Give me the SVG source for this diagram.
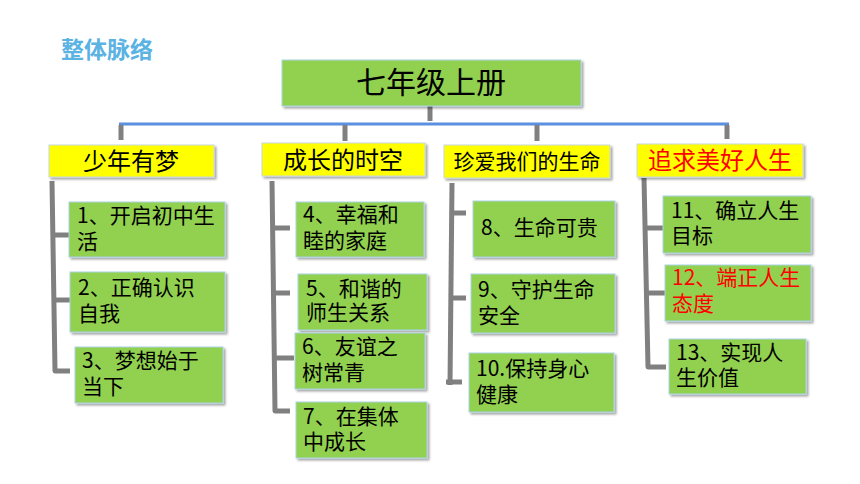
<svg xmlns="http://www.w3.org/2000/svg" width="860" height="484" viewBox="0 0 860 484">
<defs>
<filter id="sh" x="-10%" y="-10%" width="130%" height="140%">
<feDropShadow dx="2" dy="2" stdDeviation="1" flood-color="#000" flood-opacity="0.35"/>
</filter>
</defs>
<style>
text{font-family:"Noto Sans CJK SC","Microsoft YaHei",sans-serif;fill:#000}
.g{fill:#92d050;stroke:#a9d3e6;stroke-width:1;filter:url(#sh)}
.y{fill:#ffff00;stroke:#c8d8e0;stroke-width:1;filter:url(#sh)}
.t{font-size:21px}
.h{font-size:24px;text-anchor:middle}
.red{fill:#ff0000}
.c{fill:none;stroke:#808080;stroke-width:5;stroke-linejoin:round}
.b{fill:none;stroke:#5b8fe0;stroke-width:3}
</style>
<rect width="860" height="484" fill="#ffffff"/>
<text x="61" y="58" style="font-size:23px;font-weight:bold;fill:#5ab3e3">整体脉络</text>
<g id="connectors">
<line class="c" x1="430" y1="106" x2="430" y2="121"/>
<line class="b" x1="119" y1="124" x2="729" y2="124"/>
<line class="c" x1="121" y1="125" x2="121" y2="140"/>
<line class="c" x1="345" y1="125" x2="345" y2="141"/>
<line class="c" x1="537" y1="125" x2="537" y2="141"/>
<line class="c" x1="727" y1="125" x2="727" y2="139"/>
<polyline class="c" points="52,181 55,371 70,371"/>
<line class="c" x1="53" y1="235" x2="69" y2="235"/>
<line class="c" x1="54" y1="300" x2="70" y2="300"/>
<polyline class="c" points="272,181 275,411 290,411"/>
<line class="c" x1="273" y1="228" x2="290" y2="228"/>
<line class="c" x1="274" y1="293" x2="290" y2="293"/>
<line class="c" x1="275" y1="358" x2="294" y2="358"/>
<polyline class="c" points="452,183 450,385"/>
<line class="c" x1="446" y1="382" x2="462" y2="382"/>
<line class="c" x1="452" y1="213" x2="466" y2="213"/>
<line class="c" x1="451" y1="298" x2="466" y2="298"/>
<polyline class="c" points="644,178 648,367 666,367"/>
<line class="c" x1="646" y1="228" x2="663" y2="228"/>
<line class="c" x1="647" y1="293" x2="665" y2="293"/>
</g>
<g id="root"><rect class="g" x="282" y="60" width="299" height="46"/><text x="431" y="93" style="font-size:30px;text-anchor:middle">七年级上册</text></g>
<g id="c1"><rect class="y" x="49" y="145" width="165" height="32"/><text class="h" x="131" y="170">少年有梦</text></g>
<g id="c2"><rect class="y" x="262" y="143" width="163" height="33"/><text class="h" x="343" y="169">成长的时空</text></g>
<g id="c3"><rect class="y" x="444" y="145" width="166" height="33"/><text x="527" y="169" style="font-size:21px;text-anchor:middle">珍爱我们的生命</text></g>
<g id="c4"><rect class="y" x="637" y="144" width="166" height="33"/><text class="h red" x="720" y="169">追求美好人生</text></g>
<g id="n1"><rect class="g" x="69" y="202" width="156" height="55"/><text class="t" x="77" y="223">1、开启初中生</text><text class="t" x="77" y="249">活</text></g>
<g id="n2"><rect class="g" x="70" y="272" width="155" height="60"/><text class="t" x="78" y="295">2、正确认识</text><text class="t" x="78" y="321">自我</text></g>
<g id="n3"><rect class="g" x="75" y="347" width="148" height="56"/><text class="t" x="82" y="368">3、梦想始于</text><text class="t" x="82" y="394">当下</text></g>
<g id="n4"><rect class="g" x="296" y="202" width="128" height="55"/><text class="t" x="303" y="222">4、幸福和</text><text class="t" x="303" y="248">睦的家庭</text></g>
<g id="n5"><rect class="g" x="298" y="274" width="129" height="56"/><text class="t" x="306" y="296">5、和谐的</text><text class="t" x="306" y="320">师生关系</text></g>
<g id="n6"><rect class="g" x="295" y="333" width="130" height="56"/><text class="t" x="302" y="354">6、友谊之</text><text class="t" x="302" y="380">树常青</text></g>
<g id="n7"><rect class="g" x="296" y="402" width="131" height="56"/><text class="t" x="303" y="424">7、在集体</text><text class="t" x="303" y="449">中成长</text></g>
<g id="n8"><rect class="g" x="473" y="201" width="142" height="56"/><text class="t" x="481" y="235">8、生命可贵</text></g>
<g id="n9"><rect class="g" x="471" y="274" width="144" height="59"/><text class="t" x="478" y="297">9、守护生命</text><text class="t" x="478" y="323">安全</text></g>
<g id="n10"><rect class="g" x="469" y="353" width="145" height="59"/><text class="t" x="476" y="376">10.保持身心</text><text class="t" x="476" y="402">健康</text></g>
<g id="n11"><rect class="g" x="663" y="196" width="148" height="57"/><text class="t" x="671" y="218">11、确立人生</text><text class="t" x="671" y="243">目标</text></g>
<g id="n12"><rect class="g" x="665" y="265" width="146" height="56"/><text class="t red" x="672" y="285">12、端正人生</text><text class="t red" x="672" y="311">态度</text></g>
<g id="n13"><rect class="g" x="669" y="339" width="137" height="55"/><text class="t" x="676" y="360">13、实现人</text><text class="t" x="676" y="385">生价值</text></g>
</svg>
